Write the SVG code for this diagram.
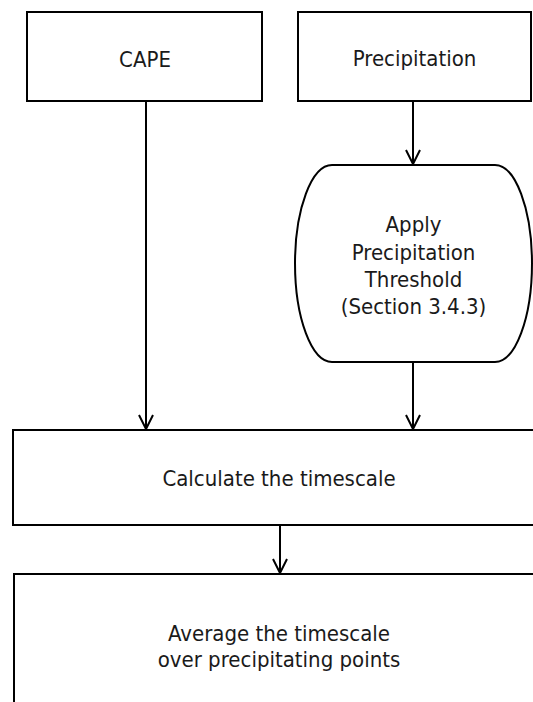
<svg xmlns="http://www.w3.org/2000/svg" width="533" height="702" viewBox="0 0 533 702">
<style>
.box{fill:#fff;stroke:#000;stroke-width:2}
.lbl{font-family:"DejaVu Sans Condensed","DejaVu Sans",sans-serif;font-stretch:condensed;font-size:22px;fill:#1a1a1a;text-anchor:middle}
.edge{fill:none;stroke:#000;stroke-width:2}
</style>
<defs>
<marker id="arr" markerUnits="userSpaceOnUse" markerWidth="20" markerHeight="20" viewBox="-10 -18 20 20" refX="0" refY="0" orient="auto-start-reverse" overflow="visible">
<path d="M-14,-7 L0,0 L-14,7" fill="none" stroke="#000" stroke-width="2" transform="rotate(0)"/>
</marker>
</defs>
<rect width="533" height="702" fill="#fff"/>
<g id="connectors">
<path class="edge" d="M146,101 V429" marker-end="url(#arr)"/>
<path class="edge" d="M413,101 V164" marker-end="url(#arr)"/>
<path class="edge" d="M413,362 V429" marker-end="url(#arr)"/>
<path class="edge" d="M280,525 V573" marker-end="url(#arr)"/>
</g>
<g id="cape">
<rect class="box" x="27" y="12" width="235" height="89"/>
<text class="lbl" x="145" y="67">CAPE</text>
</g>
<g id="precipitation">
<rect class="box" x="298" y="12" width="233" height="89"/>
<text class="lbl" x="414.5" y="66">Precipitation</text>
</g>
<g id="threshold">
<path class="box" d="M332,165 H495 A37,98.5 0 0 1 495,362 H332 A37,98.5 0 0 1 332,165 Z"/>
<text class="lbl" x="413.5" y="232">Apply</text>
<text class="lbl" x="413.5" y="259.5">Precipitation</text>
<text class="lbl" x="413.5" y="287">Threshold</text>
<text class="lbl" x="413.5" y="314">(Section 3.4.3)</text>
</g>
<g id="calculate">
<rect class="box" x="13" y="430" width="540" height="95"/>
<text class="lbl" x="279" y="486">Calculate the timescale</text>
</g>
<g id="average">
<rect class="box" x="14" y="574" width="540" height="140"/>
<text class="lbl" x="279" y="641">Average the timescale</text>
<text class="lbl" x="279" y="667">over precipitating points</text>
</g>
</svg>
